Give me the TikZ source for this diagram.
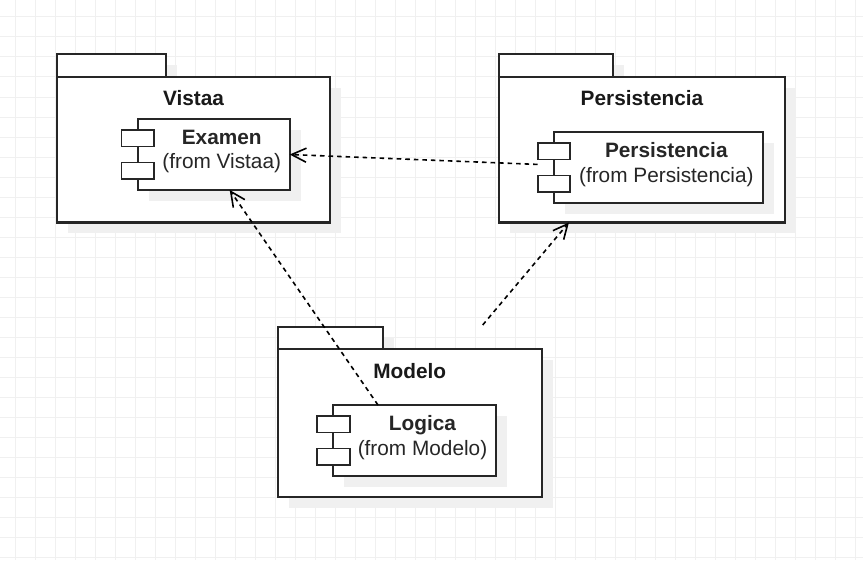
\documentclass[tikz,border=0pt]{standalone}
\usepackage{fontspec}
\setmainfont{Liberation Sans}
\usetikzlibrary{arrows.meta, fit, shadows}

\begin{document}
\begin{tikzpicture}[
      x=0.75pt, y=-0.75pt,
      every node/.style={inner sep=0pt, outer sep=0pt},
      shadowed/.style={general shadow={fill=black!6, shadow xshift=8.2pt, shadow yshift=-8.2pt}},
      pkg/.style={draw=black!85, fill=white, line width=1.6pt, shadowed},
      comp/.style={draw=black!85, fill=white, line width=1.3pt, shadowed},
      port/.style={draw=black!85, fill=white, line width=1.3pt, minimum width=24.5pt, minimum height=12.5pt},
      pkgname/.style={font=\bfseries\fontsize{15.6}{18}\selectfont, text=black!90},
      compname/.style={align=center, font=\fontsize{15.6}{18.4}\selectfont, text=black!85},
      dep/.style={dash pattern=on 3.4pt off 3pt, line width=1.2pt, -{Straight Barb[length=11pt, width=10.5pt]}}
    ]
    \fill[white] (0,0) rectangle (863,560);
    \useasboundingbox (0,0) rectangle (863,560);
    % background grid
    \foreach \gx in {15.5,35.5,...,863} \draw[black!6, line width=0.75pt] (\gx,0) -- (\gx,560);
    \foreach \gy in {17,37,...,560} \draw[black!6, line width=0.75pt] (0,\gy) -- (863,\gy);

    % packages
    \node[pkg, fit={(57,54) (166,77)}] (vistaa-tab) {};
    \node[pkg, fit={(57,77) (330,222.5)}] (vistaa) {};
    \node[pkgname] (vistaa-name) at ([yshift=-15.8pt]vistaa.north) {Vistaa};
    \node[pkg, fit={(499,54) (613.3,77)}] (persist-tab) {};
    \node[pkg, fit={(499,77) (785,222.5)}] (persist) {};
    \node[pkgname] (persist-name) at ([yshift=-15.8pt]persist.north) {Persistencia};
    \node[pkg, fit={(277.7,326.7) (383.3,349.3)}] (modelo-tab) {};
    \node[pkg, fit={(277.7,349.3) (541.7,497.3)}] (modelo) {};
    \node[pkgname] (modelo-name) at ([yshift=-16.2pt]modelo.north) {Modelo};

    % components
    \node[comp, fit={(137.7,119) (289.7,190)}] (examen) {};
    \node[port] (examen-p1) at ([yshift=12.2pt]examen.west) {};
    \node[port] (examen-p2) at ([yshift=-12.2pt]examen.west) {};
    \node[compname] (examen-txt) at ([xshift=6pt, yshift=2.3pt]examen.center) {\textbf{Examen}\\(from Vistaa)};
    \node[comp, fit={(554,131.7) (762.7,203.3)}] (pcomp) {};
    \node[port] (pcomp-p1) at ([yshift=12.2pt]pcomp.west) {};
    \node[port] (pcomp-p2) at ([yshift=-12.2pt]pcomp.west) {};
    \node[compname] (pcomp-txt) at ([xshift=6pt, yshift=2.3pt]pcomp.center) {\textbf{Persistencia}\\(from Persistencia)};
    \node[comp, fit={(333.3,405) (495.7,476)}] (logica) {};
    \node[port] (logica-p1) at ([yshift=12.2pt]logica.west) {};
    \node[port] (logica-p2) at ([yshift=-12.2pt]logica.west) {};
    \node[compname] (logica-txt) at ([xshift=6pt, yshift=2.3pt]logica.center) {\textbf{Logica}\\(from Modelo)};

    % dependencies
    \coordinate (modelo-out) at (482.7,325);
    \draw[dep] (pcomp-txt -| pcomp-p1.west) -- (examen.east);
    \draw[dep] ([xshift=-27.4pt]logica.north) -- ([xshift=12pt]examen.south);
    \draw[dep] (modelo-out) -- ([xshift=-54.8pt]persist.south);
  \end{tikzpicture}
\end{document}
